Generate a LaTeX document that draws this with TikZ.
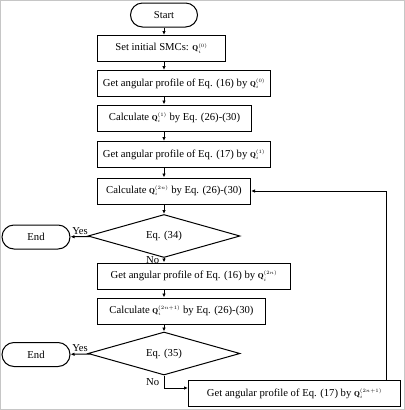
\documentclass[tikz,border=0pt]{standalone}
\usepackage{fontspec}
\setmainfont{Liberation Serif}
\usetikzlibrary{shapes.geometric}
\usetikzlibrary{arrows.meta}

\newcommand{\Qit}[1]{{\fontsize{7.5}{9}\selectfont$\mathbf{Q}_{i}^{(#1)}$}}

\begin{document}
\begin{tikzpicture}[x=1bp, y=-1bp, font=\fontsize{10.7}{13}\selectfont,
        flow/.style={draw, line width=1bp, anchor=west, minimum height=26bp, inner xsep=0pt},
        term/.style={draw, line width=1bp, rounded corners=12bp, minimum height=24bp},
        cond/.style={draw, line width=1bp, diamond, aspect=3.5, minimum width=152bp,
            minimum height=43bp, inner sep=0pt},
        link/.style={line width=1bp, -{Latex[length=4bp, width=3.5bp]}}]
        \draw[gray!45, line width=0.8bp] (0.4,0.4) rectangle (404.6,409.6);

        \node[term, minimum width=67bp] (start) at (164,15) {Start};
        \node[flow, minimum width=128bp] (init) at (97,48.5) {Set initial SMCs: \Qit{0}};
        \node[flow, minimum width=173bp] (prof16a) at (97,83.5)
            {Get angular profile of Eq. (16) by \Qit{0}};
        \node[flow, minimum width=154bp] (calc1) at (97,118)
            {Calculate \Qit{1}\ by Eq. (26)-(30)};
        \node[flow, minimum width=173bp] (prof17a) at (97,154.5)
            {Get angular profile of Eq. (17) by \Qit{1}};
        \node[flow, minimum width=153bp] (calc2n) at (97,191)
            {Calculate \Qit{2n}\ by Eq. (26)-(30)};
        \node[cond] (eq34) at (164,236) {Eq. (34)};
        \node[term, minimum width=68bp] (end1) at (36,237) {End};
        \node[flow, minimum width=193bp] (prof16b) at (97,276)
            {Get angular profile of Eq. (16) by \Qit{2n}};
        \node[flow, minimum width=168bp] (calc2n1) at (97,311)
            {Calculate \Qit{2n+1} by Eq. (26)-(30)};
        \node[cond] (eq35) at (164,353.5) {Eq. (35)};
        \node[term, minimum width=68bp] (end2) at (36,354.5) {End};
        \node[flow, minimum width=212bp] (prof17b) at (188,393.5)
            {Get angular profile of Eq. (17) by \Qit{2n+1}};
        \coordinate (turn) at (164,388);
        \coordinate (back) at (386,191);

        \draw[link] (start) -- (init.north -| start);
        \draw[link] (init.south -| start) -- (prof16a.north -| start);
        \draw[link] (prof16a.south -| start) -- (calc1.north -| start);
        \draw[link] (calc1.south -| start) -- (prof17a.north -| start);
        \draw[link] (prof17a.south -| start) -- (calc2n.north -| start);
        \draw[link] (calc2n.south -| start) -- (eq34);
        \draw[link] (eq34) -- node[above=-1.5bp]{Yes} (end1);
        \draw[link] (eq34) -- node[left=1bp, pos=0.45]{No} (prof16b.north -| eq34);
        \draw[link] (prof16b.south -| start) -- (calc2n1.north -| start);
        \draw[link] (calc2n1.south -| start) -- (eq35);
        \draw[link] (eq35) -- node[above=-1.5bp]{Yes} (end2);
        \draw[link] (eq35) -- node[left=1bp]{No} (turn) -- (turn -| prof17b.west);
        \draw[link] (prof17b.north -| back) -- (back) -- (calc2n);
\end{tikzpicture}
\end{document}
